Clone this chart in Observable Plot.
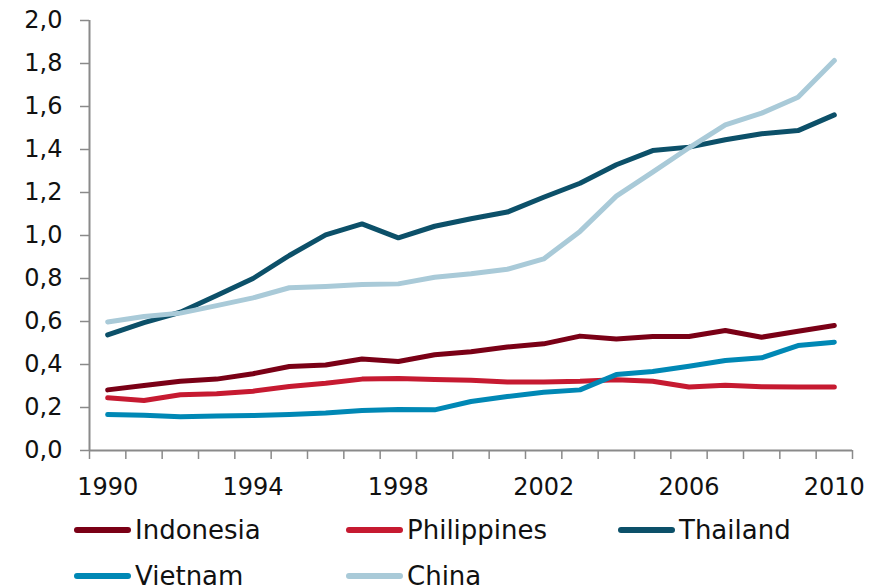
<!DOCTYPE html>
<html>
<head>
<meta charset="utf-8">
<script src="https://cdn.jsdelivr.net/npm/d3@7"></script>
<script src="https://cdn.jsdelivr.net/npm/@observablehq/plot@0.6"></script>
<style>
  html, body { margin: 0; padding: 0; background: #fff; }
  #chart { width: 879px; height: 588px; overflow: hidden; font-family: "DejaVu Sans", Verdana, sans-serif; color: #111; }
  .legend { display: grid; grid-template-columns: 272px 272px 272px; padding-left: 74px; padding-top: 2px; }
  .item { display: flex; align-items: center; height: 46px; font-size: 26px; }
  .swatch { width: 57px; height: 6px; border-radius: 3px; margin-right: 4px; flex: none; }
</style>
</head>
<body>
<div id="chart"></div>
<script>
// Years on the category axis
const years = [1990, 1991, 1992, 1993, 1994, 1995, 1996, 1997, 1998, 1999, 2000,
               2001, 2002, 2003, 2004, 2005, 2006, 2007, 2008, 2009, 2010];

// Series values, one per year
const indonesia   = [0.282, 0.302, 0.322, 0.332, 0.357, 0.391, 0.398, 0.426, 0.414, 0.445, 0.459,
                     0.481, 0.496, 0.532, 0.519, 0.530, 0.530, 0.558, 0.527, 0.555, 0.581];
const philippines = [0.245, 0.233, 0.259, 0.264, 0.276, 0.298, 0.313, 0.332, 0.335, 0.330, 0.327,
                     0.319, 0.319, 0.322, 0.329, 0.322, 0.295, 0.304, 0.296, 0.295, 0.295];
const thailand    = [0.538, 0.595, 0.643, 0.721, 0.800, 0.907, 1.003, 1.054, 0.989, 1.043, 1.078,
                     1.109, 1.178, 1.243, 1.329, 1.395, 1.411, 1.445, 1.473, 1.488, 1.561];
const vietnam     = [0.167, 0.164, 0.157, 0.161, 0.163, 0.167, 0.174, 0.186, 0.191, 0.189, 0.228,
                     0.251, 0.271, 0.282, 0.353, 0.367, 0.392, 0.419, 0.431, 0.488, 0.504];
const china       = [0.598, 0.623, 0.639, 0.674, 0.710, 0.757, 0.763, 0.772, 0.775, 0.806, 0.822,
                     0.843, 0.891, 1.019, 1.183, 1.295, 1.408, 1.515, 1.569, 1.643, 1.814];

const seriesNames  = ["Indonesia", "Philippines", "Thailand", "Vietnam", "China"];
const seriesValues = [indonesia, philippines, thailand, vietnam, china];
const seriesColors = ["#7a0016", "#c61a31", "#0c5069", "#0088b5", "#a9cad8"];

// Axis ticks and labels
const yTicks = [0, 0.2, 0.4, 0.6, 0.8, 1.0, 1.2, 1.4, 1.6, 1.8, 2.0];
const xLabelYears = [1990, 1994, 1998, 2002, 2006, 2010];

// Long-format table: series drawn in order, so later ones sit on top
const rows = seriesNames.flatMap((name, i) =>
  years.map((year, j) => ({country: name, year, value: seriesValues[i][j]})));

// Category boundaries carry the small tick marks
const boundaries = years.map(y => y - 0.5).concat([years[years.length - 1] + 0.5]);

const axisGray = "#8a8a8a";

const plot = Plot.plot({
  width: 879,
  height: 505,
  marginLeft: 89,
  marginRight: 27,
  marginTop: 20,
  marginBottom: 55,
  style: {fontFamily: "DejaVu Sans, Verdana, sans-serif", fontSize: "24px", color: "#111", background: "#fff"},
  x: {domain: [boundaries[0], boundaries[boundaries.length - 1]]},
  y: {domain: [0, 2]},
  color: {domain: seriesNames, range: seriesColors},
  marks: [
    Plot.axisY({ticks: yTicks, tickSize: 9, tickPadding: 18, stroke: axisGray, strokeWidth: 1.5,
                tickFormat: d => d.toFixed(1).replace(".", ","), label: null}),
    Plot.axisX({ticks: boundaries, tickSize: 9, stroke: axisGray, strokeWidth: 1.5,
                tickFormat: () => "", label: null}),
    Plot.axisX({ticks: xLabelYears, tickSize: 0, tickPadding: 27,
                tickFormat: d => String(d), label: null}),
    Plot.ruleY([0], {stroke: axisGray, strokeWidth: 2}),
    Plot.ruleX([boundaries[0]], {stroke: axisGray, strokeWidth: 2}),
    Plot.line(rows, {x: "year", y: "value", z: "country", stroke: "country",
                     strokeWidth: 5, strokeLinecap: "round", strokeLinejoin: "round"})
  ]
});

const chart = document.getElementById("chart");
chart.appendChild(plot);

// Legend below the plot
const legend = document.createElement("div");
legend.className = "legend";
seriesNames.forEach((name, i) => {
  const item = document.createElement("div");
  item.className = "item";
  const sw = document.createElement("span");
  sw.className = "swatch";
  sw.style.background = seriesColors[i];
  const label = document.createElement("span");
  label.textContent = name;
  item.appendChild(sw);
  item.appendChild(label);
  legend.appendChild(item);
});
chart.appendChild(legend);
</script>
</body>
</html>
